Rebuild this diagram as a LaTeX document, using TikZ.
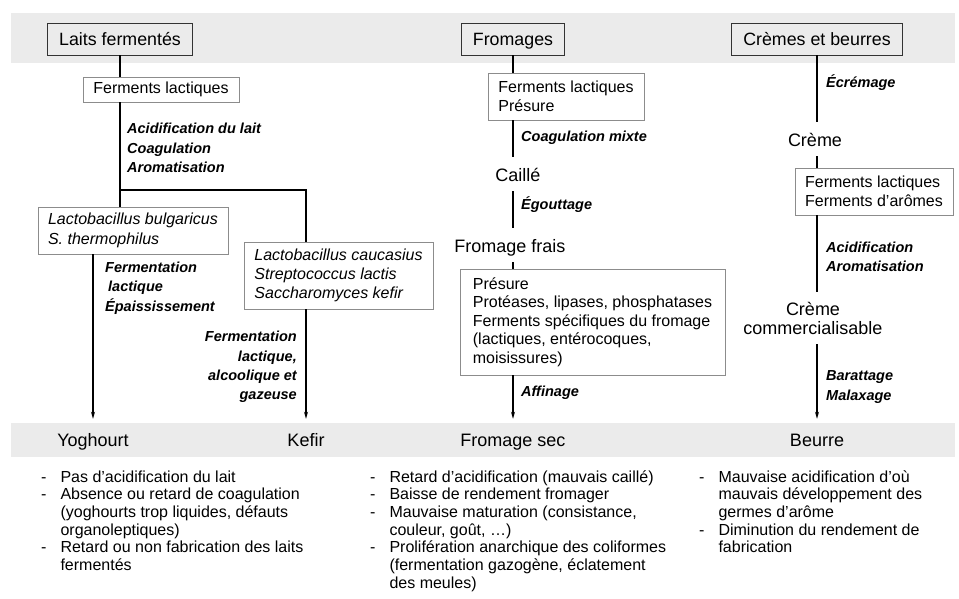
\documentclass[tikz,border=0pt]{standalone}
\usepackage{fontspec}
\setmainfont{Liberation Sans}
\usetikzlibrary{arrows.meta}
\usetikzlibrary{positioning}
\definecolor{bandgray}{gray}{0.92}
\definecolor{boxgray}{gray}{0.55}
\tikzset{headbox/.style = {draw=black!80, fill=bandgray, line width=0.9pt,
                           text height=14.5, text depth=2, inner ysep=7.75, inner xsep=11.5,
                           font=\fontsize{17.8}{21}\selectfont},
         agentbox/.style = {draw=boxgray, fill=white, line width=0.9pt,
                            align=left, inner sep=3,
                            font=\fontsize{16}{18.5}\selectfont},
         stage/.style = {inner xsep=0, inner ysep=8.5, text height=16, text depth=1,
                         font=\fontsize{18}{21}\selectfont},
         twostage/.style = {inner xsep=0, inner ysep=10, align=center,
                            font=\fontsize{18}{19}\selectfont},
         bandlabel/.style = {inner xsep=0, inner ysep=12.5, text height=15, text depth=2,
                             font=\fontsize{18}{21}\selectfont},
         proc/.style = {inner sep=0, align=left, anchor=west,
                        font=\bfseries\itshape\fontsize{14.5}{19.3}\selectfont},
         defects/.style = {inner sep=0, anchor=base west,
                           font=\fontsize{16}{17.7}\selectfont},
         link/.style = {line width=1.2pt},
         flow/.style = {link, -{Stealth[length=7pt, width=4pt]}}}

\begin{document}
\begin{tikzpicture}[x=1pt, y=-1pt]
    \useasboundingbox (0,0) rectangle (959,599);
    % bands
    \fill [bandgray] (11,13) rectangle (955,63);
    \fill [bandgray] (11,423) rectangle (955,457);
    % headers
    \node [headbox] (hLaits) at (120,39) {Laits fermentés};
    \node [headbox] (hFrom) at (513,39) {Fromages};
    \node [headbox] (hCreme) at (817,39) {Crèmes et beurres};
    % final products
    \node [bandlabel] (yog) at (93,440) {Yoghourt};
    \node [bandlabel] (kef) at (306,440) {Kefir};
    \node [bandlabel] (fsec) at (513,440) {Fromage sec};
    \node [bandlabel] (beurre) at (817,440) {Beurre};

    % laits fermentes
    \node [agentbox, minimum width=156, minimum height=25] (fLact) at (161,89.5) {Ferments lactiques};
    \node [agentbox, minimum width=190, minimum height=47, font=\itshape\fontsize{16}{19.5}\selectfont] (fBul) at (133,230.5)
      {Lactobacillus bulgaricus\\S. thermophilus};
    \node [agentbox, minimum width=189, minimum height=67, font=\itshape\fontsize{16}{19}\selectfont] (fKef) at (338.5,275.5)
      {Lactobacillus caucasius\\Streptococcus lactis\\Saccharomyces kefir};
    \coordinate (jL) at (hLaits.south |- 0,190);
    \coordinate (jR) at (kef |- jL);
    \draw [link] (hLaits.south) -- (hLaits.south |- fLact.north);
    \draw [link] (hLaits.south |- fLact.south) -- (jL) -- (jR) -- (jR |- fKef.north);
    \draw [link] (jL) -- (jL |- fBul.north);
    \draw [flow] (yog |- fBul.south) -- (yog.north);
    \draw [flow] (kef |- fKef.south) -- (kef.north);
    \node [proc] at (127,148) {Acidification du lait\\Coagulation\\Aromatisation};
    \node [proc] at (105,288) {Fermentation\\\hspace{3pt}lactique\\Épaississement};
    \node [proc, anchor=east, align=right] at (297,367) {Fermentation\\lactique,\\alcoolique et\\gazeuse};

    % fromages
    \node [agentbox, minimum width=156, minimum height=47] (fFrLa) at (566,96.5) {Ferments lactiques\\Présure};
    \node [stage] (caille) at (518,174) {Caillé};
    \node [stage] (frais) at (510,245) {Fromage frais};
    \node [agentbox, minimum width=265, minimum height=106] (fAff) at (592.5,322)
      {Présure\\Protéases, lipases, phosphatases\\Ferments spécifiques du fromage\\(lactiques, entérocoques,\\moisissures)};
    \draw [link] (hFrom.south) -- (hFrom.south |- fFrLa.north);
    \draw [link] (hFrom.south |- fFrLa.south) -- (hFrom.south |- caille.north);
    \draw [link] (hFrom.south |- caille.south) -- (hFrom.south |- frais.north);
    \draw [link] (hFrom.south |- frais.south) -- (hFrom.south |- fAff.north);
    \draw [flow] (hFrom.south |- fAff.south) -- (fsec.north);
    \node [proc] at (521,138) {Coagulation mixte};
    \node [proc] at (521,205) {Égouttage};
    \node [proc] at (521,393) {Affinage};

    % cremes et beurres
    \node [stage] (creme) at (815,139) {Crème};
    \node [agentbox, minimum width=158, minimum height=47] (fCreme) at (874,191.5) {Ferments lactiques\\Ferments d’arômes};
    \node [twostage] (cremeCom) at (813,318) {Crème\\commercialisable};
    \draw [link] (hCreme.south) -- (hCreme.south |- creme.north);
    \draw [link] (hCreme.south |- creme.south) -- (hCreme.south |- fCreme.north);
    \draw [link] (hCreme.south |- fCreme.south) -- (hCreme.south |- cremeCom.north);
    \draw [flow] (hCreme.south |- cremeCom.south) -- (beurre.north);
    \node [proc] at (826,83) {Écrémage};
    \node [proc] at (826,257) {Acidification\\Aromatisation};
    \node [proc] at (826,387) {Barattage\\Malaxage};

    % defects
    \node [defects] (dYog) at (41,482) {\begin{tabular}[t]{@{}l@{\hspace{14pt}}l@{}}
      - & Pas d’acidification du lait\\
      - & Absence ou retard de coagulation\\
        & (yoghourts trop liquides, défauts\\
        & organoleptiques)\\
      - & Retard ou non fabrication des laits\\
        & fermentés
    \end{tabular}};
    \node [defects] (dFsec) at (370,482) {\begin{tabular}[t]{@{}l@{\hspace{14pt}}l@{}}
      - & Retard d’acidification (mauvais caillé)\\
      - & Baisse de rendement fromager\\
      - & Mauvaise maturation (consistance,\\
        & couleur, goût, …)\\
      - & Prolifération anarchique des coliformes\\
        & (fermentation gazogène, éclatement\\
        & des meules)
    \end{tabular}};
    \node [defects] (dBeur) at (699,482) {\begin{tabular}[t]{@{}l@{\hspace{14pt}}l@{}}
      - & Mauvaise acidification d’où\\
        & mauvais développement des\\
        & germes d’arôme\\
      - & Diminution du rendement de\\
        & fabrication
    \end{tabular}};
  \end{tikzpicture}
\end{document}
